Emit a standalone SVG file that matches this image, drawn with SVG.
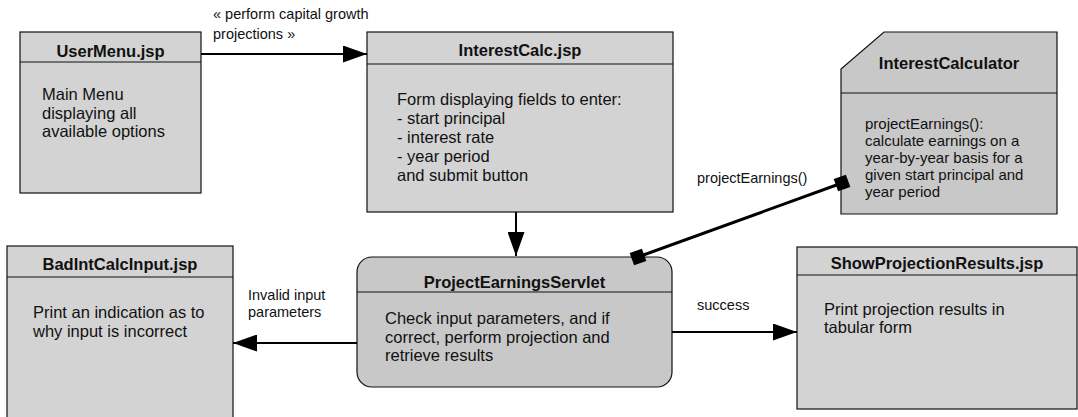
<svg xmlns="http://www.w3.org/2000/svg" width="1078" height="417" viewBox="0 0 1078 417">
<defs>
<style>
.box{fill:#d3d3d3;stroke:#111;stroke-width:1.2}
.dark{fill:#c8c8c8;stroke:#111;stroke-width:1.2}
.div{stroke:#111;stroke-width:1.2}
.title{font-family:"Liberation Sans",Arial,sans-serif;font-weight:bold;font-size:16.5px;fill:#111;text-anchor:middle}
.body{font-family:"Liberation Sans",Arial,sans-serif;font-size:16.5px;fill:#111}
.small{font-family:"Liberation Sans",Arial,sans-serif;font-size:15px;fill:#111}
.lbl{font-family:"Liberation Sans",Arial,sans-serif;font-size:14.5px;fill:#111}
.conn{stroke:#000;stroke-width:2;fill:none}
.assoc{stroke:#000;stroke-width:3;fill:none}
</style>
<marker id="arr" viewBox="0 0 24 17" refX="24" refY="8.5" markerWidth="24" markerHeight="17" markerUnits="userSpaceOnUse" orient="auto">
<path d="M0,0 L24,8.5 L0,17 Z" fill="#000"/>
</marker>
</defs>

<g id="UserMenu">
<rect class="box" x="20" y="32" width="181" height="161"/>
<line class="div" x1="20" y1="62" x2="201" y2="62"/>
<text class="title" x="110.5" y="57">UserMenu.jsp</text>
<text class="body" x="42" y="100">Main Menu</text>
<text class="body" x="42" y="118.5">displaying all</text>
<text class="body" x="42" y="137">available options</text>
</g>

<g id="InterestCalc">
<rect class="box" x="367" y="32" width="306" height="180"/>
<line class="div" x1="367" y1="64" x2="673" y2="64"/>
<text class="title" x="520" y="56">InterestCalc.jsp</text>
<text class="body" x="397" y="105">Form displaying fields to enter:</text>
<text class="body" x="397" y="124">- start principal</text>
<text class="body" x="397" y="143">- interest rate</text>
<text class="body" x="397" y="162">- year period</text>
<text class="body" x="397" y="181">and submit button</text>
</g>

<g id="InterestCalculator">
<polygon class="dark" points="884,32 1057,32 1057,214 841,214 841,69"/>
<line class="div" x1="841" y1="93" x2="1057" y2="93"/>
<text class="title" x="949" y="69">InterestCalculator</text>
<text class="small" x="865" y="129">projectEarnings():</text>
<text class="small" x="865" y="146">calculate earnings on a</text>
<text class="small" x="865" y="163">year-by-year basis for a</text>
<text class="small" x="865" y="180">given start principal and</text>
<text class="small" x="865" y="197">year period</text>
</g>

<g id="BadIntCalcInput">
<rect class="box" x="7" y="246" width="226" height="180"/>
<line class="div" x1="7" y1="277" x2="233" y2="277"/>
<text class="title" x="120" y="270">BadIntCalcInput.jsp</text>
<text class="body" x="33" y="318">Print an indication as to</text>
<text class="body" x="33" y="337">why input is incorrect</text>
</g>

<g id="ProjectEarningsServlet">
<rect class="dark" x="357" y="257" width="315" height="130" rx="15" ry="15"/>
<line class="div" x1="357" y1="292" x2="672" y2="292"/>
<text class="title" x="514.5" y="288">ProjectEarningsServlet</text>
<text class="body" x="385" y="324">Check input parameters, and if</text>
<text class="body" x="385" y="343">correct, perform projection and</text>
<text class="body" x="385" y="361">retrieve results</text>
</g>

<g id="ShowProjectionResults">
<rect class="box" x="797" y="247" width="280" height="162"/>
<line class="div" x1="797" y1="275" x2="1077" y2="275"/>
<text class="title" x="937" y="269">ShowProjectionResults.jsp</text>
<text class="body" x="824" y="315">Print projection results in</text>
<text class="body" x="824" y="333">tabular form</text>
</g>

<g id="connectors">
<line class="conn" x1="201" y1="54" x2="367" y2="54" marker-end="url(#arr)"/>
<text class="lbl" x="213" y="19">« perform capital growth</text>
<text class="lbl" x="213" y="39">projections »</text>

<line class="conn" x1="516" y1="212" x2="516" y2="256" marker-end="url(#arr)"/>

<line class="conn" x1="357" y1="343" x2="233" y2="343" marker-end="url(#arr)"/>
<text class="lbl" x="248" y="300">Invalid input</text>
<text class="lbl" x="248" y="317">parameters</text>

<line class="conn" x1="672" y1="332" x2="797" y2="332" marker-end="url(#arr)"/>
<text class="lbl" x="697" y="310">success</text>

<line class="assoc" x1="638" y1="257" x2="842" y2="183"/>
<rect x="-6.5" y="-6.5" width="13" height="13" fill="#000" transform="translate(842,183) rotate(-19.9)"/>
<rect x="-6.5" y="-6.5" width="13" height="13" fill="#000" transform="translate(638,257) rotate(-19.9)"/>
<text class="lbl" x="697" y="183">projectEarnings()</text>
</g>
</svg>
